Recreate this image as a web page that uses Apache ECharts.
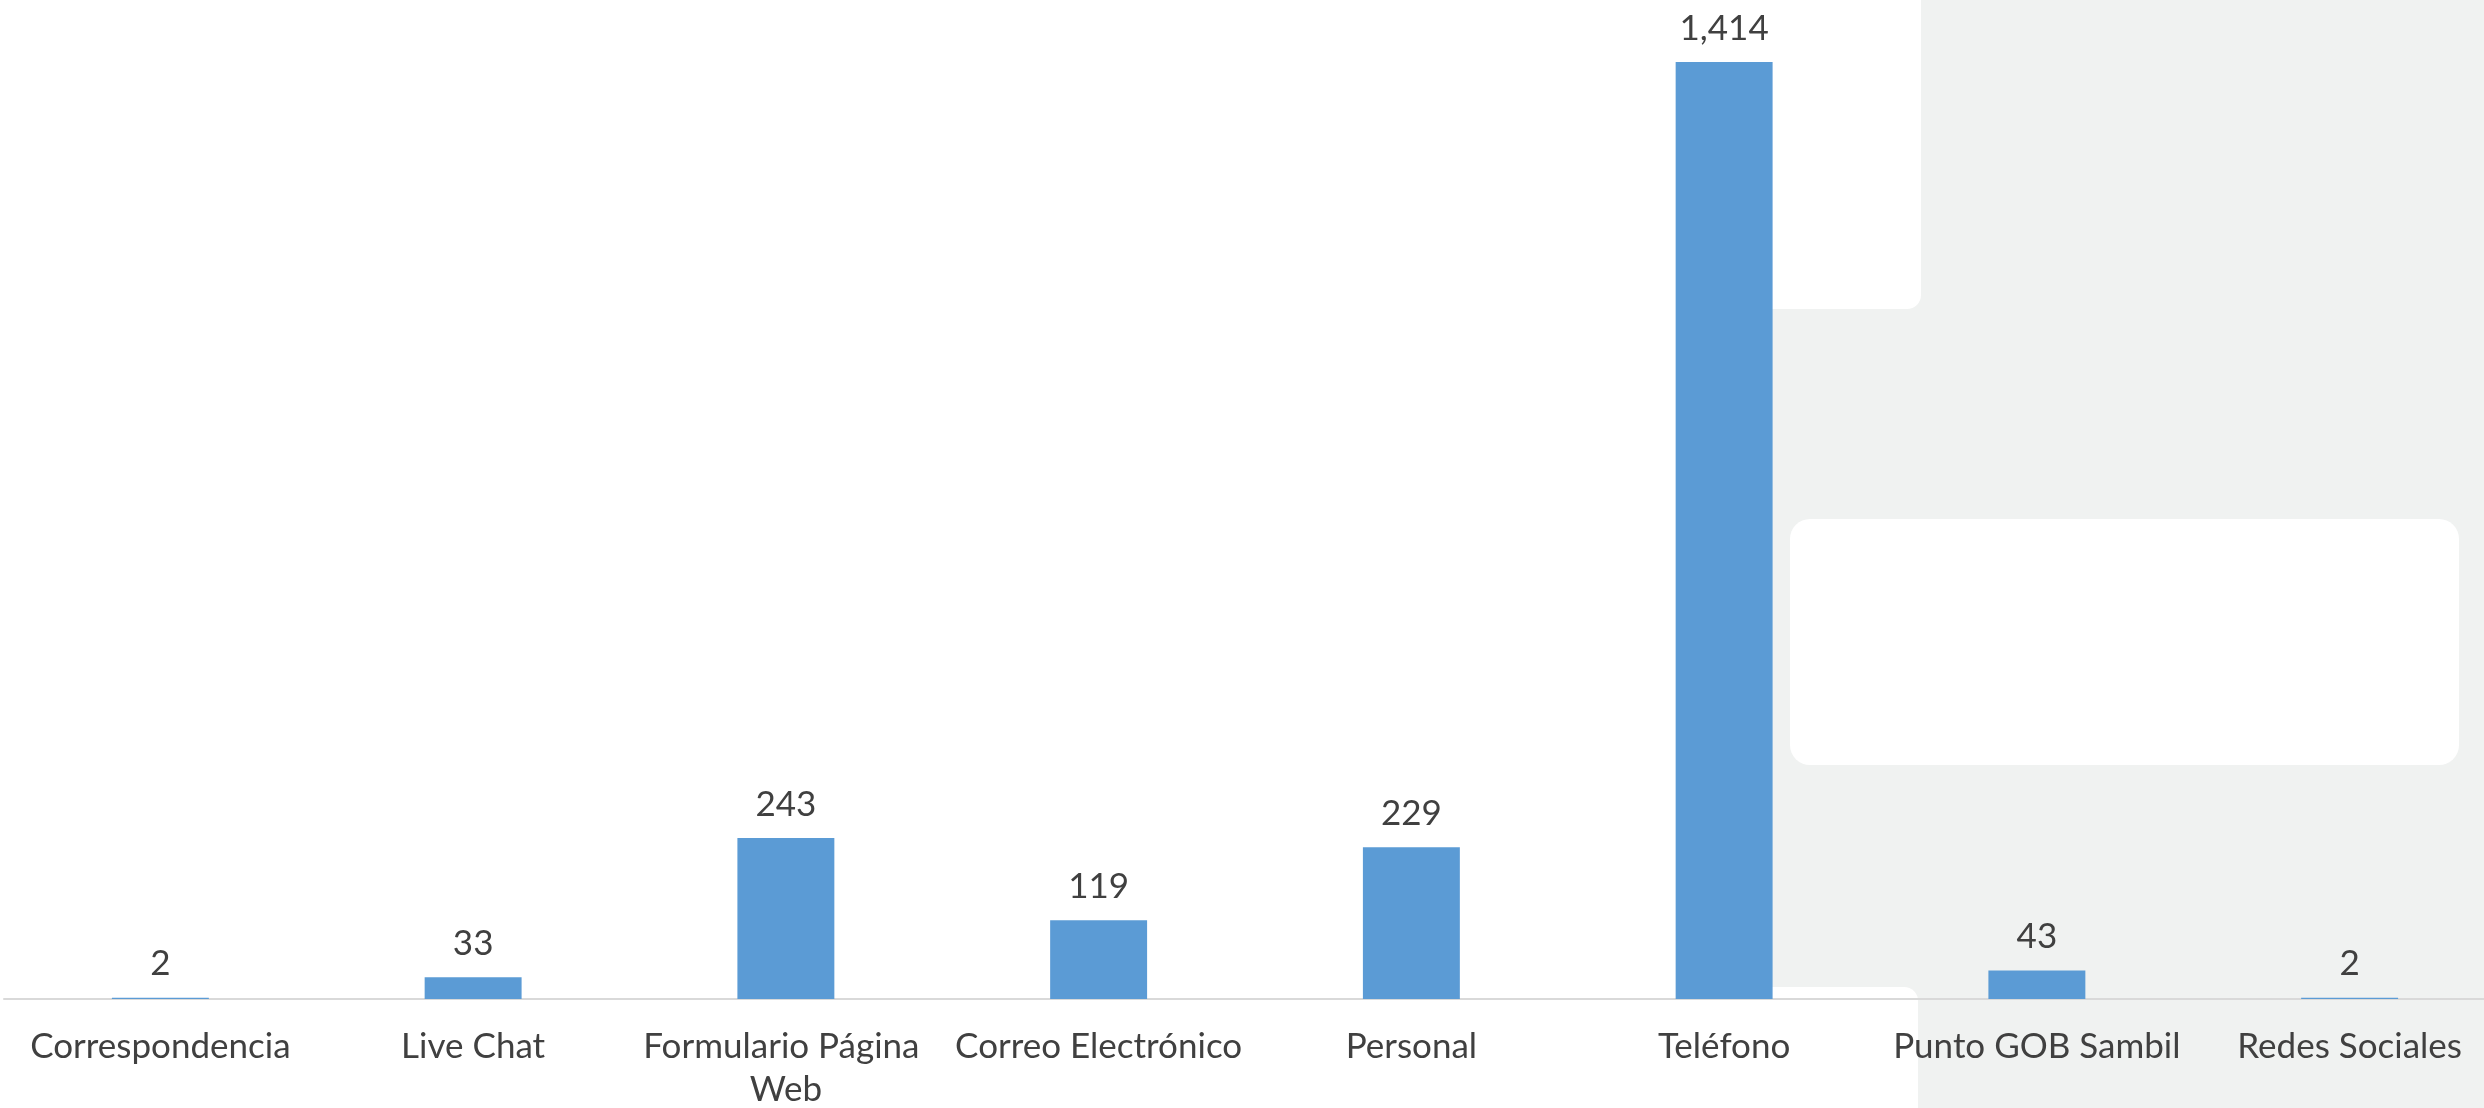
<!DOCTYPE html>
<html>
<head>
<meta charset="utf-8">
<script src="https://cdn.jsdelivr.net/npm/echarts@6/dist/echarts.min.js"></script>
<style>
html,body{margin:0;padding:0;background:#ffffff;}
#chart{width:2484px;height:1108px;}
</style>
</head>
<body>
<div id="chart"></div>
<script>
const categories = ["Correspondencia", "Live Chat", "Formulario Página Web", "Correo Electrónico", "Personal", "Teléfono", "Punto GOB Sambil", "Redes Sociales"];
const values = [2, 33, 243, 119, 229, 1414, 43, 2];

const chart = echarts.init(document.getElementById('chart'), null, {renderer: 'canvas'});
const font = 'Lato, "Open Sans", sans-serif';
chart.setOption({
  backgroundColor: '#ffffff',
  animation: false,
  graphic: {
    z: -10,
    elements: [
      {type: 'rect', z: -10, shape: {x: 1700, y: 0, width: 800, height: 1108}, style: {fill: '#F0F2F1'}},
      {type: 'rect', z: -9, shape: {x: -20, y: -30, width: 1941, height: 339, r: 14}, style: {fill: '#ffffff'}},
      {type: 'rect', z: -9, shape: {x: -20, y: 987, width: 1938, height: 160, r: 14}, style: {fill: '#ffffff'}},
      {type: 'rect', z: -9, shape: {x: 1790, y: 519, width: 669, height: 246, r: 20}, style: {fill: '#ffffff'}}
    ]
  },
  grid: {left: 4, width: 2502, top: 5, bottom: 109, containLabel: false, outerBoundsMode: 'none'},
  xAxis: {
    type: 'category',
    data: categories,
    axisLine: {show: true, lineStyle: {color: '#D9D9D9', width: 2}},
    axisTick: {show: false},
    axisLabel: {
      interval: 0,
      color: '#404040',
      fontFamily: font,
      fontSize: 35,
      lineHeight: 43,
      margin: 26,
      width: 310,
      overflow: 'break'
    }
  },
  yAxis: {
    type: 'value',
    min: 0,
    max: 1500,
    show: false,
    splitLine: {show: false}
  },
  series: [{
    type: 'bar',
    data: values,
    barWidth: '31%',
    itemStyle: {color: '#5B9BD5'},
    label: {
      show: true,
      position: 'top',
      distance: 16,
      color: '#404040',
      fontFamily: font,
      fontSize: 35,
      formatter: p => p.value.toLocaleString('en-US')
    }
  }]
});
</script>
</body>
</html>
